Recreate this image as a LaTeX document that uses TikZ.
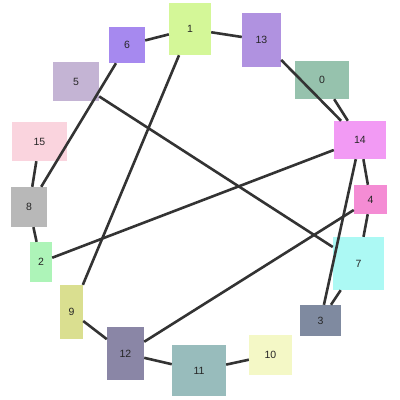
\documentclass[tikz,border=0pt]{standalone}
\usepackage{fontspec}
\setmainfont{Liberation Sans}
\usepackage{tikz}
\definecolor{c0}{HTML}{96C2AD}
\definecolor{c1}{HTML}{D4F798}
\definecolor{c2}{HTML}{ADF4B8}
\definecolor{c3}{HTML}{7F8AA0}
\definecolor{c4}{HTML}{F48CD4}
\definecolor{c5}{HTML}{C4B4D4}
\definecolor{c6}{HTML}{A689EF}
\definecolor{c7}{HTML}{ACF9F4}
\definecolor{c8}{HTML}{B8B8B8}
\definecolor{c9}{HTML}{DADF90}
\definecolor{c10}{HTML}{F4F8C6}
\definecolor{c11}{HTML}{98BCBC}
\definecolor{c12}{HTML}{8A86A6}
\definecolor{c13}{HTML}{B092E0}
\definecolor{c14}{HTML}{F29AF4}
\definecolor{c15}{HTML}{FAD4DE}
\tikzset{box/.style={inner sep=0pt, font=\fontsize{10.5}{12}\selectfont, text=black!85},
         link/.style={line width=2.6pt, draw=black!80}}

\begin{document}
\begin{tikzpicture}[x=1pt, y=-1pt]
  \useasboundingbox (0,0) rectangle (400,400);
  \node (n0)  [box, fill=c0,  minimum width=54pt, minimum height=38pt] at (322,80)    {0};
  \node (n1)  [box, fill=c1,  minimum width=42pt, minimum height=52pt] at (190,29)    {1};
  \node (n2)  [box, fill=c2,  minimum width=22pt, minimum height=40pt] at (41,262)    {2};
  \node (n3)  [box, fill=c3,  minimum width=41pt, minimum height=31pt] at (320.5,320.5) {3};
  \node (n4)  [box, fill=c4,  minimum width=33pt, minimum height=29pt] at (370.5,199.5) {4};
  \node (n5)  [box, fill=c5,  minimum width=46pt, minimum height=39pt] at (76,81.5)   {5};
  \node (n6)  [box, fill=c6,  minimum width=36pt, minimum height=36pt] at (127,45)    {6};
  \node (n7)  [box, fill=c7,  minimum width=51pt, minimum height=53pt] at (358.5,263.5) {7};
  \node (n8)  [box, fill=c8,  minimum width=36pt, minimum height=40pt] at (29,207)    {8};
  \node (n9)  [box, fill=c9,  minimum width=23pt, minimum height=54pt] at (71.5,312)  {9};
  \node (n10) [box, fill=c10, minimum width=43pt, minimum height=40pt] at (270.5,355) {10};
  \node (n11) [box, fill=c11, minimum width=54pt, minimum height=51pt] at (199,370.5) {11};
  \node (n12) [box, fill=c12, minimum width=37pt, minimum height=53pt] at (125.5,353.5) {12};
  \node (n13) [box, fill=c13, minimum width=39pt, minimum height=54pt] at (261.5,40)  {13};
  \node (n14) [box, fill=c14, minimum width=52pt, minimum height=38pt] at (360,140)   {14};
  \node (n15) [box, fill=c15, minimum width=55pt, minimum height=39pt] at (39.5,141.5) {15};
  \draw[link] (n6) to (n1);
  \draw[link] (n1) to (n13);
  \draw[link] (n13) to (n14);
  \draw[link] (n0) to (n14);
  \draw[link] (n14) to (n4);
  \draw[link] (n4) to (n7);
  \draw[link] (n7) to (n3);
  \draw[link] (n14) to (n3);
  \draw[link] (n1) to (n9);
  \draw[link] (n6) to (n8);
  \draw[link] (n15) to (n8);
  \draw[link] (n8) to (n2);
  \draw[link] (n2) to (n14);
  \draw[link] (n9) to (n12);
  \draw[link] (n12) to (n11);
  \draw[link] (n11) to (n10);
  \draw[link] (n12) to (n4);
  \draw[link] (n5) to (n7);
\end{tikzpicture}
\end{document}
